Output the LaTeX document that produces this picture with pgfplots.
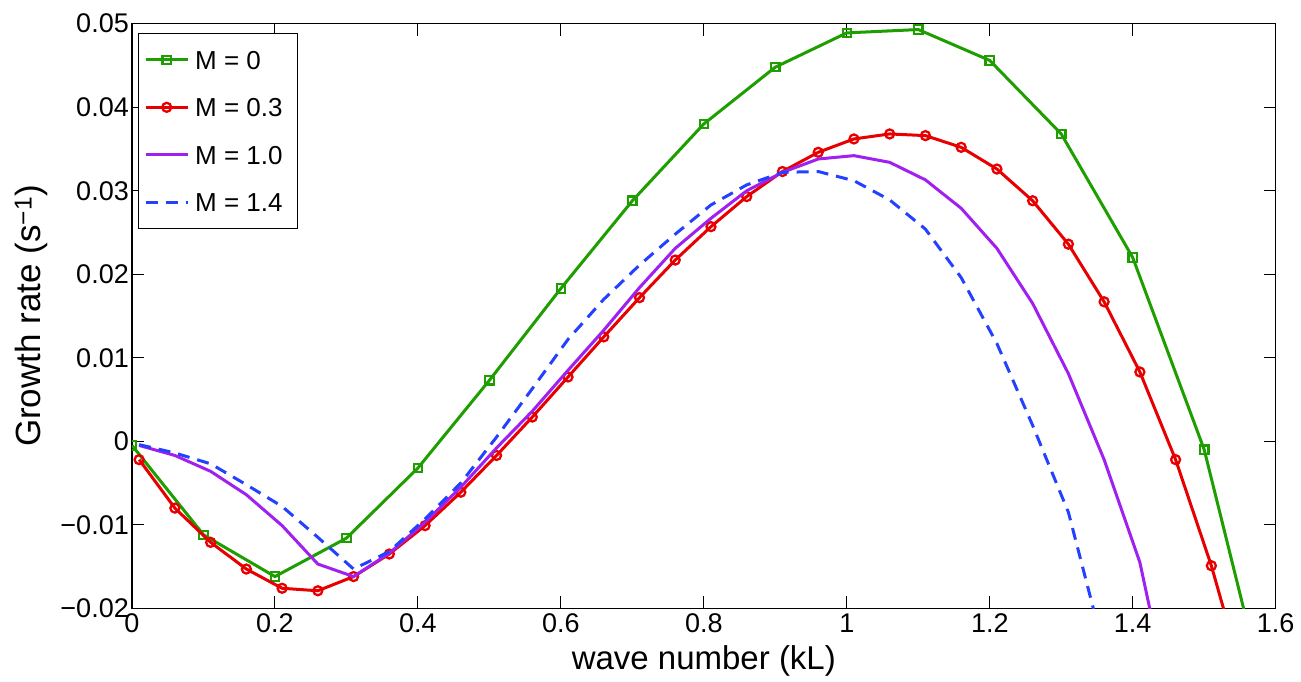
\documentclass[border=0pt]{standalone}
\usepackage{fontspec}
\setmainfont{Liberation Sans}
\usepackage{pgfplots}
\pgfplotsset{compat=1.18}
\definecolor{cgreen}{RGB}{30,158,0}
\definecolor{cred}{RGB}{232,0,0}
\definecolor{cpurple}{RGB}{160,32,240}
\definecolor{cblue}{RGB}{35,65,255}
\begin{document}
\begin{tikzpicture}
\path[use as bounding box] (0,0) rectangle (1301pt,681pt);
\begin{axis}[
  at={(132pt,72.7pt)}, anchor=south west,
  scale only axis, width=1143.7pt, height=584.6pt,
  xmin=0, xmax=1.6, ymin=-0.02, ymax=0.05,
  scaled y ticks=false, scaled x ticks=false,
  xtick={0,0.2,0.4,0.6,0.8,1,1.2,1.4,1.6},
  xticklabels={0,0.2,0.4,0.6,0.8,1,1.2,1.4,1.6},
  ytick={-0.02,-0.01,0,0.01,0.02,0.03,0.04,0.05},
  yticklabels={−0.02,−0.01,0,0.01,0.02,0.03,0.04,0.05},
  tick align=inside, major tick length=12pt,
  tick style={black, line width=1pt},
  axis line style={line width=1.2pt},
  tick label style={font=\fontsize{27}{32}\selectfont},
  yticklabel style={inner xsep=3pt},
  xticklabel style={inner ysep=5pt},
  xlabel={wave number (kL)},
  ylabel={Growth rate (s\textsuperscript{−1})},
  every axis x label/.style={at={(axis description cs:0.5,-0.09)}, anchor=center, font=\fontsize{33}{40}\selectfont},
  every axis y label/.style={at={(axis description cs:-0.088,0.5)}, rotate=90, anchor=center, font=\fontsize{35}{42}\selectfont},
  clip marker paths=true,
  legend style={at={(axis description cs:0.005,0.984)}, anchor=north west,
    draw=black, line width=1pt, fill=white,
    font=\fontsize{26}{30}\selectfont,
    inner xsep=6pt, inner ysep=15pt, row sep=25pt,
    /tikz/every odd column/.append style={column sep=4pt},
    nodes={inner sep=2pt, text height=18.5pt, text depth=0pt}},
  legend cell align=left,
  legend image code/.code={\draw[mark repeat=2,mark phase=2,#1] plot coordinates {(0pt,0pt) (21pt,0pt) (42pt,0pt)};},
]
\addplot[cgreen, line width=3pt, mark=square, mark size=4.2pt, mark options={line width=2.2pt, solid}] coordinates {
(0,-0.0005) (0.1,-0.0112) (0.2,-0.0162) (0.3,-0.0116) (0.4,-0.0032) (0.5,0.0073)
(0.6,0.0183) (0.7,0.0288) (0.8,0.0380) (0.9,0.0448) (1.0,0.0489) (1.1,0.0493)
(1.2,0.0456) (1.3,0.0368) (1.4,0.0220) (1.5,-0.0010) (1.6,-0.0355)};
\addlegendentry{\makebox[94pt][l]{M = 0}}
\addplot[cred, line width=3pt, mark=o, mark size=4.5pt, mark options={line width=2.3pt, solid}] coordinates {
(0.01,-0.0022) (0.06,-0.0080) (0.11,-0.0121) (0.16,-0.0153) (0.21,-0.0176) (0.26,-0.0179)
(0.31,-0.0162) (0.36,-0.0135) (0.41,-0.0101) (0.46,-0.0061) (0.51,-0.0017) (0.56,0.0029)
(0.61,0.0077) (0.66,0.0125) (0.71,0.0172) (0.76,0.0217) (0.81,0.0257) (0.86,0.0293)
(0.91,0.0323) (0.96,0.0346) (1.01,0.0362) (1.06,0.0368) (1.11,0.0366) (1.16,0.0352)
(1.21,0.0326) (1.26,0.0288) (1.31,0.0236) (1.36,0.0167) (1.41,0.0083) (1.46,-0.0022)
(1.51,-0.0149) (1.56,-0.0300)};
\addlegendentry{M = 0.3}
\addplot[cpurple, line width=3pt] coordinates {
(0.01,-0.0005) (0.06,-0.0017) (0.11,-0.0036) (0.16,-0.0064) (0.21,-0.0101) (0.26,-0.0147)
(0.31,-0.0162) (0.36,-0.0134) (0.41,-0.0097) (0.46,-0.0055) (0.51,-0.0008) (0.56,0.0036)
(0.61,0.0085) (0.66,0.0133) (0.71,0.0184) (0.76,0.0231) (0.81,0.0267) (0.86,0.0300)
(0.91,0.0322) (0.96,0.0338) (1.01,0.0342) (1.06,0.0334) (1.11,0.0313) (1.16,0.0279)
(1.21,0.0231) (1.26,0.0165) (1.31,0.0081) (1.36,-0.0022) (1.41,-0.0145) (1.46,-0.0345)};
\addlegendentry{M = 1.0}
\addplot[cblue, line width=3pt, dash pattern=on 12pt off 8pt] coordinates {
(0.01,-0.0004) (0.06,-0.0014) (0.11,-0.0027) (0.16,-0.0052) (0.21,-0.0078) (0.26,-0.0115)
(0.31,-0.0153) (0.36,-0.0132) (0.41,-0.0093) (0.46,-0.0050) (0.51,0.0005) (0.56,0.0063)
(0.61,0.0122) (0.66,0.0170) (0.71,0.0211) (0.76,0.0248) (0.81,0.0283) (0.86,0.0307)
(0.91,0.0322) (0.96,0.0323) (1.01,0.0312) (1.06,0.0289) (1.11,0.0254) (1.16,0.0196)
(1.21,0.0117) (1.26,0.0019) (1.31,-0.0085) (1.36,-0.0250)};
\addlegendentry{M = 1.4}
\end{axis}
\end{tikzpicture}
\end{document}
